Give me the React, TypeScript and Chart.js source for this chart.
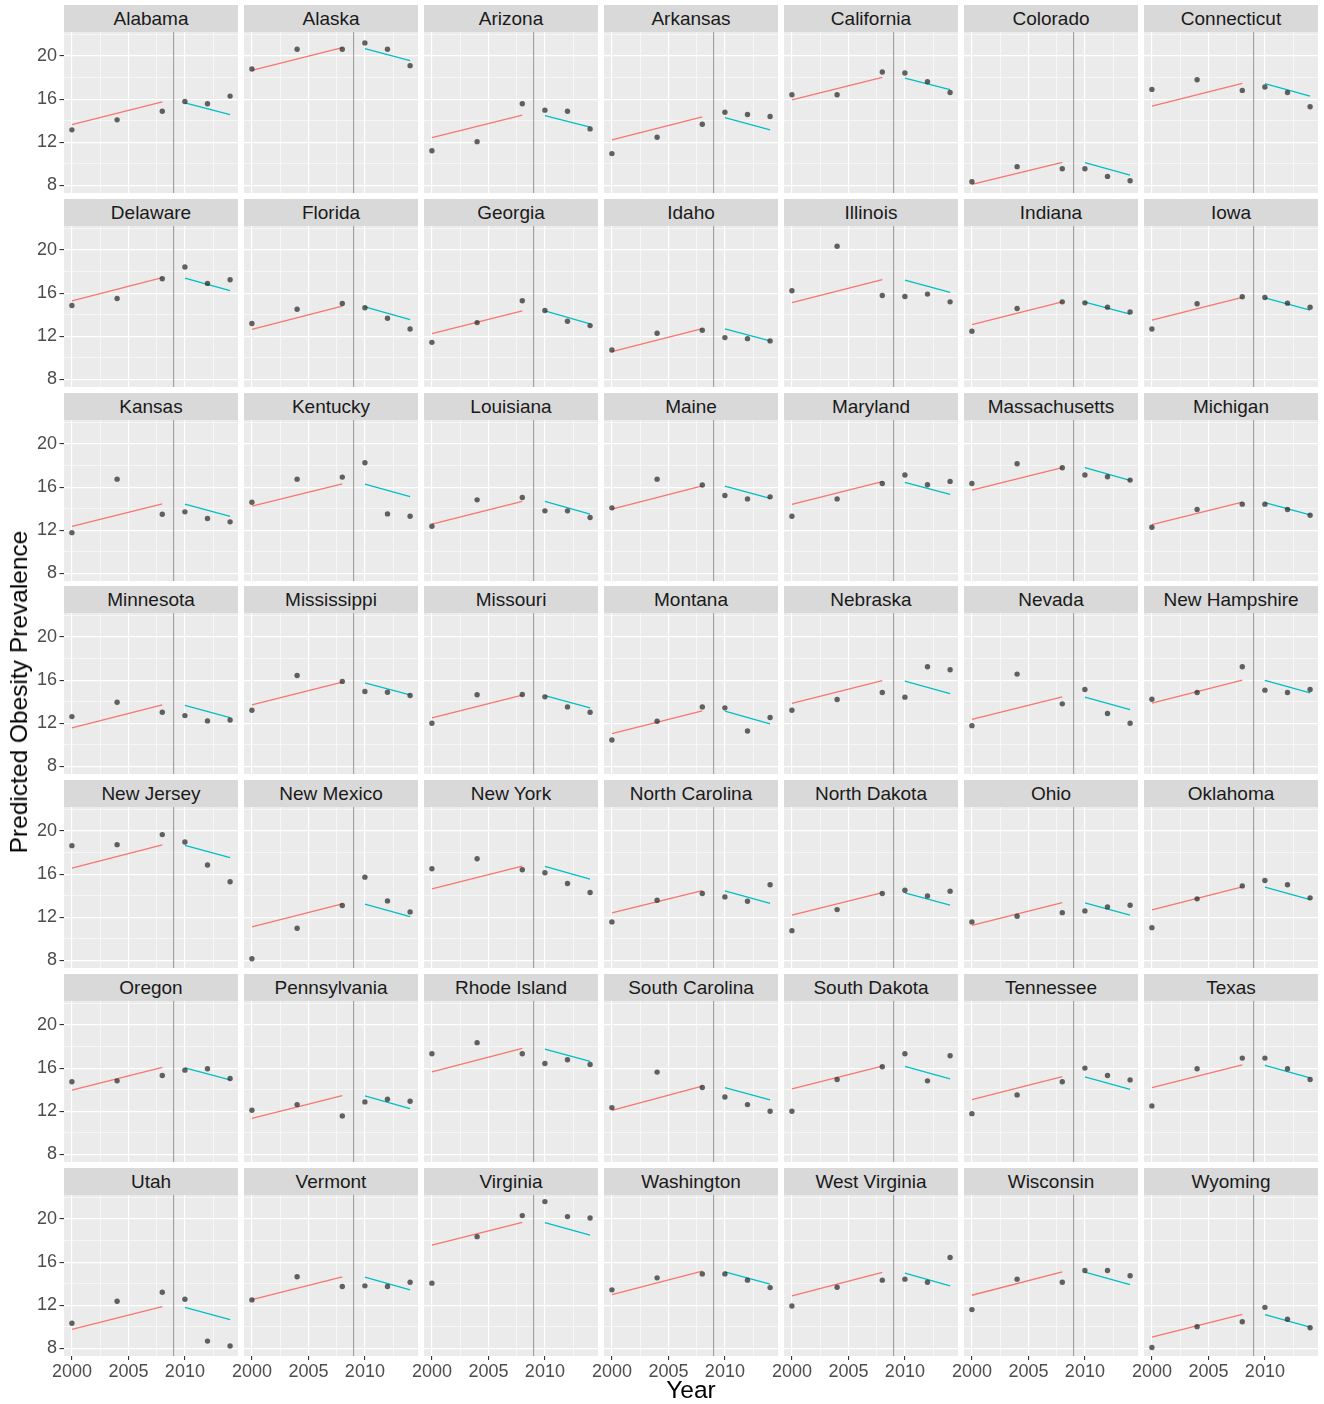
import React, { useEffect, useRef } from "react";
import { Chart, registerables } from "chart.js";

Chart.register(...registerables);

// ---------------- data ----------------
const STATES = [
  "Alabama", "Alaska", "Arizona", "Arkansas", "California", "Colorado", "Connecticut",
  "Delaware", "Florida", "Georgia", "Idaho", "Illinois", "Indiana", "Iowa",
  "Kansas", "Kentucky", "Louisiana", "Maine", "Maryland", "Massachusetts", "Michigan",
  "Minnesota", "Mississippi", "Missouri", "Montana", "Nebraska", "Nevada", "New Hampshire",
  "New Jersey", "New Mexico", "New York", "North Carolina", "North Dakota", "Ohio", "Oklahoma",
  "Oregon", "Pennsylvania", "Rhode Island", "South Carolina", "South Dakota", "Tennessee", "Texas",
  "Utah", "Vermont", "Virginia", "Washington", "West Virginia", "Wisconsin", "Wyoming",
];

const YEARS = [2000, 2004, 2008, 2010, 2012, 2014];

// observed prevalence per state, one value per entry of YEARS
const OBSERVED = [
  [13.15, 14.08, 14.88, 15.78, 15.57, 16.28],
  [18.79, 20.62, 20.62, 21.21, 20.62, 19.10],
  [11.22, 12.06, 15.57, 14.98, 14.88, 13.24],
  [10.95, 12.47, 13.67, 14.79, 14.57, 14.39],
  [16.40, 16.40, 18.51, 18.42, 17.61, 16.62],
  [8.34, 9.74, 9.55, 9.55, 8.84, 8.43],
  [16.90, 17.80, 16.81, 17.12, 16.62, 15.29],
  [14.85, 15.50, 17.33, 18.42, 16.90, 17.24],
  [13.18, 14.51, 15.04, 14.64, 13.67, 12.68],
  [11.44, 13.27, 15.29, 14.39, 13.40, 12.99],
  [10.73, 12.28, 12.56, 11.88, 11.78, 11.57],
  [16.22, 20.34, 15.78, 15.69, 15.91, 15.19],
  [12.47, 14.57, 15.19, 15.10, 14.70, 14.26],
  [12.68, 15.01, 15.66, 15.60, 15.07, 14.70],
  [11.78, 16.74, 13.49, 13.71, 13.09, 12.78],
  [14.60, 16.74, 16.93, 18.26, 13.52, 13.30],
  [12.37, 14.82, 15.04, 13.80, 13.80, 13.18],
  [14.08, 16.74, 16.19, 15.22, 14.91, 15.10],
  [13.30, 14.91, 16.34, 17.12, 16.22, 16.53],
  [16.34, 18.17, 17.80, 17.12, 16.96, 16.65],
  [12.28, 13.92, 14.42, 14.42, 13.92, 13.40],
  [12.62, 13.95, 13.02, 12.71, 12.22, 12.31],
  [13.21, 16.43, 15.88, 14.95, 14.88, 14.57],
  [12.00, 14.64, 14.67, 14.45, 13.52, 13.02],
  [10.45, 12.19, 13.52, 13.43, 11.29, 12.53],
  [13.21, 14.20, 14.85, 14.42, 17.24, 16.96],
  [11.78, 16.56, 13.80, 15.13, 12.90, 12.00],
  [14.23, 14.85, 17.24, 15.07, 14.85, 15.13],
  [18.64, 18.73, 19.66, 18.98, 16.84, 15.29],
  [8.16, 10.98, 13.09, 15.72, 13.52, 12.50],
  [16.50, 17.43, 16.40, 16.12, 15.13, 14.29],
  [11.57, 13.58, 14.20, 13.89, 13.49, 15.01],
  [10.76, 12.71, 14.20, 14.51, 13.98, 14.42],
  [11.57, 12.09, 12.43, 12.59, 12.96, 13.12],
  [11.04, 13.71, 14.91, 15.41, 15.01, 13.80],
  [14.73, 14.82, 15.32, 15.81, 15.94, 15.04],
  [12.09, 12.62, 11.57, 12.87, 13.12, 12.93],
  [17.33, 18.36, 17.33, 16.43, 16.78, 16.34],
  [12.34, 15.63, 14.20, 13.33, 12.62, 12.00],
  [12.00, 14.95, 16.12, 17.33, 14.82, 17.15],
  [11.78, 13.52, 14.73, 16.00, 15.32, 14.91],
  [12.50, 15.94, 16.93, 16.93, 15.94, 14.95],
  [10.33, 12.37, 13.21, 12.56, 8.68, 8.22],
  [12.50, 14.64, 13.74, 13.80, 13.74, 14.14],
  [14.05, 18.36, 20.31, 21.61, 20.22, 20.09],
  [13.43, 14.54, 14.91, 14.91, 14.33, 13.64],
  [11.94, 13.67, 14.33, 14.42, 14.14, 16.43],
  [11.60, 14.42, 14.14, 15.22, 15.22, 14.73],
  [8.09, 10.02, 10.48, 11.81, 10.70, 9.92],
];

// fitted segment before the cut (start/end values at PRE_YEARS)
const PRE_YEARS = [2000, 2008];
const PRE_FIT = [
  [13.64, 15.75], [18.67, 20.78], [12.43, 14.51], [12.22, 14.36], [15.94, 18.02], [8.09, 10.14], [15.35, 17.46],
  [15.29, 17.43], [12.65, 14.79], [12.25, 14.36], [10.57, 12.71], [15.13, 17.24], [13.09, 15.19], [13.49, 15.60],
  [12.37, 14.45], [14.23, 16.31], [12.56, 14.67], [13.95, 16.12], [14.39, 16.50], [15.72, 17.80], [12.53, 14.60],
  [11.57, 13.71], [13.71, 15.81], [12.50, 14.60], [11.04, 13.15], [13.85, 15.95], [12.37, 14.45], [13.86, 16.00],
  [16.56, 18.70], [11.10, 13.24], [14.64, 16.74], [12.40, 14.48], [12.19, 14.29], [11.26, 13.36], [12.68, 14.82],
  [13.95, 16.06], [11.35, 13.46], [15.66, 17.83], [12.09, 14.33], [14.08, 16.19], [13.09, 15.22], [14.20, 16.31],
  [9.77, 11.88], [12.53, 14.64], [17.58, 19.69], [12.99, 15.16], [12.87, 15.04], [12.93, 15.10], [9.05, 11.16],
];

// fitted segment after the cut (start/end values at POST_YEARS)
const POST_YEARS = [2010, 2014];
const POST_FIT = [
  [15.66, 14.57], [20.68, 19.57], [14.48, 13.40], [14.29, 13.15], [17.95, 16.87], [10.11, 8.96], [17.43, 16.28],
  [17.40, 16.22], [14.73, 13.55], [14.36, 13.15], [12.68, 11.57], [17.21, 16.06], [15.16, 14.05], [15.57, 14.42],
  [14.42, 13.30], [16.28, 15.13], [14.67, 13.49], [16.09, 14.95], [16.43, 15.32], [17.80, 16.62], [14.57, 13.43],
  [13.67, 12.53], [15.75, 14.64], [14.57, 13.43], [13.12, 11.94], [15.90, 14.75], [14.42, 13.27], [15.97, 14.82],
  [18.67, 17.52], [13.21, 12.06], [16.71, 15.53], [14.45, 13.30], [14.26, 13.12], [13.33, 12.19], [14.79, 13.64],
  [16.03, 14.91], [13.43, 12.25], [17.77, 16.62], [14.20, 13.05], [16.16, 15.01], [15.19, 14.02], [16.25, 15.10],
  [11.81, 10.67], [14.60, 13.43], [19.66, 18.51], [15.10, 13.95], [14.98, 13.80], [15.07, 13.92], [11.13, 9.98],
];

const CUT_YEAR = 2009;

const X_MAJOR = [2000, 2005, 2010];
const X_MINOR = [2002.5, 2007.5, 2012.5];
const Y_MAJOR = [8, 12, 16, 20];
const Y_MINOR = [10, 14, 18, 22];
const X_LIMITS = [1999.3, 2014.7];
const Y_LIMITS = [7.3, 22.22];

const X_TITLE = "Year";
const Y_TITLE = "Predicted Obesity Prevalence";

// ---------------- layout ----------------
const NCOL = 7;
const NROW = 7;
const COL_X0 = 64;
const COL_STEP = 180;
const PANEL_W = 174;
const ROW_Y0 = 5;
const ROW_STEP = 193.8;
const STRIP_H = 27;
const PLOT_H = 161;
const M = 14;
const YAXIS_W = 44;
const XAXIS_H = 30;

const FONT = '"Liberation Sans", Arial, Helvetica, sans-serif';

const panelBg = {
  id: "panelBg",
  beforeDraw(chart: any) {
    const { ctx, chartArea } = chart;
    ctx.save();
    ctx.fillStyle = "#EBEBEB";
    ctx.fillRect(chartArea.left, chartArea.top, chartArea.right - chartArea.left, chartArea.bottom - chartArea.top);
    ctx.restore();
  },
};

const cutLine = {
  id: "cutLine",
  beforeDatasetsDraw(chart: any) {
    const { ctx, chartArea, scales } = chart;
    const x = scales.x.getPixelForValue(CUT_YEAR);
    ctx.save();
    ctx.strokeStyle = "#9E9E9E";
    ctx.lineWidth = 1.1;
    ctx.beginPath();
    ctx.moveTo(x, chartArea.top);
    ctx.lineTo(x, chartArea.bottom);
    ctx.stroke();
    ctx.restore();
  },
};

function Panel({ idx }: { idx: number }) {
  const ref = useRef<HTMLCanvasElement | null>(null);
  const c = idx % NCOL;
  const r = Math.floor(idx / NCOL);
  const left = COL_X0 + c * COL_STEP;
  const stripTop = Math.round(ROW_Y0 + r * ROW_STEP);
  const plotTop = stripTop + STRIP_H;
  const showY = c === 0;
  const showX = r === NROW - 1;
  const cw = PANEL_W + 2 * M + (showY ? YAXIS_W : 0);
  const ch = PLOT_H + 2 * M + (showX ? XAXIS_H : 0);
  const cl = left - M - (showY ? YAXIS_W : 0);
  const ct = plotTop - M;

  useEffect(() => {
    if (!ref.current) return;
    const xTicks = [...X_MAJOR, ...X_MINOR].sort((a, b) => a - b);
    const yTicks = [...Y_MAJOR, ...Y_MINOR].sort((a, b) => a - b);
    const gridColor = () => "#FFFFFF";
    const chart = new Chart(ref.current, {
      type: "scatter",
      data: {
        datasets: [
          {
            type: "scatter",
            data: YEARS.map((x, i) => ({ x, y: OBSERVED[idx][i] })),
            pointRadius: 2.7,
            pointHoverRadius: 2.7,
            backgroundColor: "rgba(40,40,40,0.72)",
            borderWidth: 0,
          },
          {
            type: "line",
            data: PRE_YEARS.map((x, i) => ({ x, y: PRE_FIT[idx][i] })),
            borderColor: "#F8766D",
            borderWidth: 1.3,
            pointRadius: 0,
            fill: false,
          },
          {
            type: "line",
            data: POST_YEARS.map((x, i) => ({ x, y: POST_FIT[idx][i] })),
            borderColor: "#00BFC4",
            borderWidth: 1.3,
            pointRadius: 0,
            fill: false,
          },
        ],
      } as any,
      options: {
        animation: false,
        responsive: false,
        devicePixelRatio: 1,
        events: [],
        layout: { padding: M },
        plugins: { legend: { display: false }, tooltip: { enabled: false }, title: { display: false } },
        scales: {
          x: {
            type: "linear",
            min: X_LIMITS[0],
            max: X_LIMITS[1],
            afterBuildTicks: (s: any) => {
              s.ticks = xTicks.map((v) => ({ value: v }));
            },
            afterFit: (s: any) => {
              if (showX) s.height = XAXIS_H;
              s.paddingLeft = 0;
              s.paddingRight = 0;
            },
            border: { display: false },
            grid: {
              color: gridColor,
              lineWidth: (ctx: any) => (X_MAJOR.includes(ctx.tick?.value) ? 1.15 : 0.55),
              drawTicks: showX,
              tickLength: 4,
              tickWidth: 1.1,
              tickColor: (ctx: any) => (X_MAJOR.includes(ctx.tick?.value) ? "#333333" : "rgba(0,0,0,0)"),
            },
            ticks: {
              display: showX,
              autoSkip: false,
              maxRotation: 0,
              minRotation: 0,
              padding: 1,
              color: "#4D4D4D",
              font: { family: FONT, size: 18 },
              callback: (v: any) => (X_MAJOR.includes(Number(v)) ? String(v) : ""),
            },
          },
          y: {
            type: "linear",
            min: Y_LIMITS[0],
            max: Y_LIMITS[1],
            afterBuildTicks: (s: any) => {
              s.ticks = yTicks.map((v) => ({ value: v }));
            },
            afterFit: (s: any) => {
              if (showY) s.width = YAXIS_W;
              s.paddingTop = 0;
              s.paddingBottom = 0;
            },
            border: { display: false },
            grid: {
              color: gridColor,
              lineWidth: (ctx: any) => (Y_MAJOR.includes(ctx.tick?.value) ? 1.15 : 0.55),
              drawTicks: showY,
              tickLength: 4.5,
              tickWidth: 1.1,
              tickColor: (ctx: any) => (Y_MAJOR.includes(ctx.tick?.value) ? "#333333" : "rgba(0,0,0,0)"),
            },
            ticks: {
              display: showY,
              autoSkip: false,
              padding: 2.5,
              color: "#4D4D4D",
              font: { family: FONT, size: 18 },
              callback: (v: any) => (Y_MAJOR.includes(Number(v)) ? String(v) : ""),
            },
          },
        },
      } as any,
      plugins: [panelBg, cutLine],
    });
    return () => chart.destroy();
  }, [idx]);

  return (
    <>
      <div
        style={{
          position: "absolute",
          left,
          top: stripTop,
          width: PANEL_W,
          height: STRIP_H,
          background: "#D9D9D9",
          color: "#1A1A1A",
          fontFamily: FONT,
          fontSize: 19,
          lineHeight: `${STRIP_H}px`,
          textAlign: "center",
          whiteSpace: "nowrap",
        }}
      >
        {STATES[idx]}
      </div>
      <canvas
        ref={ref}
        width={cw}
        height={ch}
        style={{ position: "absolute", left: cl, top: ct, width: cw, height: ch }}
      />
    </>
  );
}

export default function App() {
  return (
    <div
      style={{
        position: "absolute",
        left: 0,
        top: 0,
        width: 1324,
        height: 1404,
        background: "#FFFFFF",
        overflow: "hidden",
      }}
    >
      {STATES.map((_, i) => (
        <Panel key={STATES[i]} idx={i} />
      ))}
      <div
        style={{
          position: "absolute",
          left: 19,
          top: 692,
          transform: "translate(-50%, -50%) rotate(-90deg)",
          fontFamily: FONT,
          fontSize: 24.5,
          color: "#000000",
          whiteSpace: "nowrap",
        }}
      >
        {Y_TITLE}
      </div>
      <div
        style={{
          position: "absolute",
          left: 691,
          top: 1390,
          transform: "translate(-50%, -50%)",
          fontFamily: FONT,
          fontSize: 24.5,
          color: "#000000",
          whiteSpace: "nowrap",
        }}
      >
        {X_TITLE}
      </div>
    </div>
  );
}
